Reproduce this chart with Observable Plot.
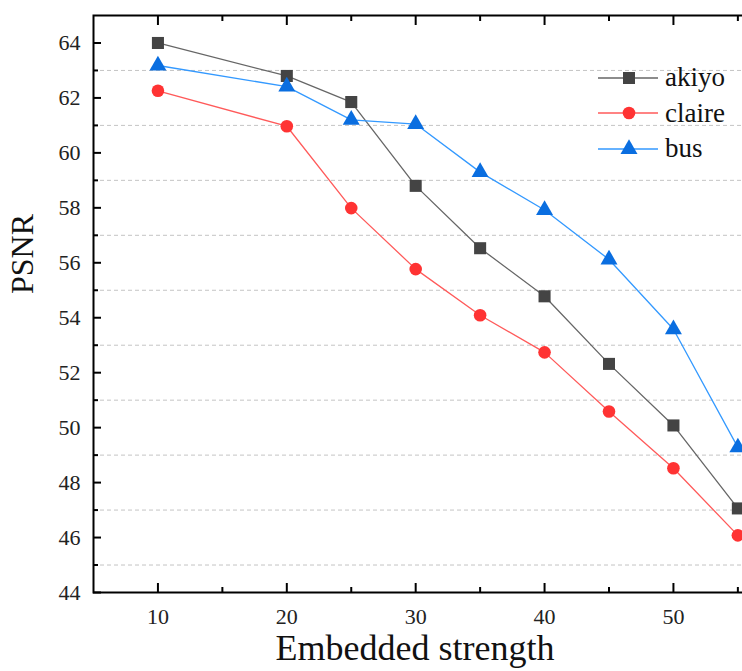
<!DOCTYPE html>
<html>
<head>
<meta charset="utf-8">
<script src="https://cdn.jsdelivr.net/npm/d3@7"></script>
<script src="https://cdn.jsdelivr.net/npm/@observablehq/plot@0.6"></script>
<style>
  html, body { margin: 0; padding: 0; background: #fff; overflow: hidden; font-family: "Liberation Serif", serif; }
  #wrap { position: relative; width: 742px; height: 671px; overflow: hidden; }
  #legend { position: absolute; left: 598px; top: 60px; font-family: "Liberation Serif", serif; font-size: 27px; color: #111; }
  .row { display: flex; align-items: center; height: 35.5px; }
  .row svg { display: block; margin-right: 7px; }
  .row span { font-family: "Liberation Serif", serif; }
</style>
</head>
<body>
<div id="wrap"><div id="legend"></div></div>
<script>
const strengths = [10, 20, 25, 30, 35, 40, 45, 50, 55];
const akiyo  = [64.0, 62.8, 61.85, 58.8, 56.53, 54.78, 52.32, 50.08, 47.06];
const claire = [62.26, 60.97, 57.99, 55.77, 54.09, 52.74, 50.59, 48.52, 46.08];
const bus    = [63.18, 62.41, 61.2, 61.05, 59.3, 57.92, 56.12, 53.58, 49.28];
const seriesNames = ["akiyo", "claire", "bus"];
const xMajor = [10, 20, 30, 40, 50];
const xMinor = [15, 25, 35, 45, 55];
const yMajor = [44, 46, 48, 50, 52, 54, 56, 58, 60, 62, 64];
const yMinor = [45, 47, 49, 51, 53, 55, 57, 59, 61, 63];

const styles = {
  akiyo:  {line: "#666666", fill: "#444444", symbol: "square",   r: 6.8},
  claire: {line: "#ff5a5a", fill: "#ff3333", symbol: "circle",   r: 6.3},
  bus:    {line: "#3399ff", fill: "#0a6ee0", symbol: "triangle", r: 6.3}
};

const values = {akiyo, claire, bus};
const data = seriesNames.flatMap(s => strengths.map((x, i) => ({series: s, x, y: values[s][i]})));

const font = "Liberation Serif";
const tickFmt = () => "";

const marks = [
  Plot.gridY(yMinor, {stroke: "#c4c4c4", strokeOpacity: 1, strokeDasharray: "4,3", strokeWidth: 1}),
];
for (const s of seriesNames) {
  const d = data.filter(e => e.series === s);
  marks.push(Plot.line(d, {x: "x", y: "y", stroke: styles[s].line, strokeWidth: 1.3}));
}
for (const s of seriesNames) {
  const d = data.filter(e => e.series === s);
  marks.push(Plot.dot(d, {x: "x", y: "y", symbol: () => styles[s].symbol, fill: styles[s].fill, r: styles[s].r, stroke: "none"}));
}
marks.push(
  // inward ticks
  Plot.axisX(xMajor, {anchor: "bottom", tickSize: -9, tickFormat: tickFmt, label: null, strokeWidth: 2}),
  Plot.axisX(xMinor, {anchor: "bottom", tickSize: -5, tickFormat: tickFmt, label: null, strokeWidth: 2}),
  Plot.axisX(xMajor, {anchor: "top", tickSize: -9, tickFormat: tickFmt, label: null, strokeWidth: 2}),
  Plot.axisX(xMinor, {anchor: "top", tickSize: -5, tickFormat: tickFmt, label: null, strokeWidth: 2}),
  Plot.axisY(yMajor, {anchor: "left", tickSize: -8, tickFormat: tickFmt, label: null, strokeWidth: 2}),
  Plot.axisY(yMinor, {anchor: "left", tickSize: -5, tickFormat: tickFmt, label: null, strokeWidth: 2}),
  Plot.axisY(yMajor, {anchor: "right", tickSize: -9, tickFormat: tickFmt, label: null, strokeWidth: 2}),
  Plot.axisY(yMinor, {anchor: "right", tickSize: -5, tickFormat: tickFmt, label: null, strokeWidth: 2}),
  // tick labels
  Plot.text(xMajor, {x: d => d, text: d => String(d), frameAnchor: "bottom", dy: 24, fontSize: 22, fontFamily: font, fill: "#222", lineAnchor: "middle"}),
  Plot.text(yMajor, {y: d => d, text: d => String(d), frameAnchor: "left", dx: -13, textAnchor: "end", fontSize: 22, fontFamily: font, fill: "#222", lineAnchor: "middle"}),
  Plot.frame({stroke: "#000", strokeWidth: 2}),
  Plot.text(["Embedded strength"], {frameAnchor: "bottom", dx: -7, dy: 56, fontSize: 36, fontFamily: font, fill: "#111", lineAnchor: "middle"}),
  Plot.text(["PSNR"], {frameAnchor: "left", rotate: -90, dx: -71, dy: -10, fontSize: 32, fontFamily: font, fill: "#111"})
);

const chart = Plot.plot({
  width: 742,
  height: 671,
  marginLeft: 93,
  marginRight: -8,
  marginTop: 15,
  marginBottom: 79,
  x: {domain: [5, 55.98], axis: null},
  y: {domain: [44, 65], axis: null},
  style: {background: "#fff", overflow: "visible"},
  marks
});
const wrap = document.getElementById("wrap");
wrap.insertBefore(chart, wrap.firstChild);

// legend
const legend = document.getElementById("legend");
for (const s of seriesNames) {
  const st = styles[s];
  const row = document.createElement("div");
  row.className = "row";
  const sym = {square: d3.symbolSquare, circle: d3.symbolCircle, triangle: d3.symbolTriangle}[st.symbol];
  const path = d3.symbol(sym, Math.PI * st.r * st.r)();
  row.innerHTML = `<svg width="60" height="20"><line x1="0" x2="60" y1="10" y2="10" stroke="${st.line}" stroke-width="1.6"/><path transform="translate(31,10)" d="${path}" fill="${st.fill}"/></svg><span>${s}</span>`;
  legend.appendChild(row);
}
</script>
</body>
</html>
